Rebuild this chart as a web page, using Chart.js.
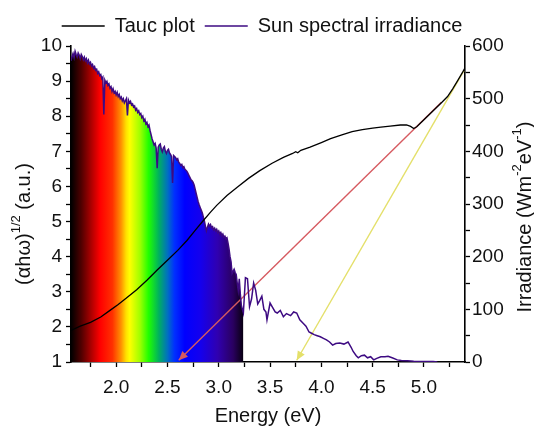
<!DOCTYPE html>
<html>
<head>
<meta charset="utf-8">
<script src="https://cdn.jsdelivr.net/npm/chart.js@4.4.0/dist/chart.umd.min.js"></script>
<style>
    html, body { margin: 0; padding: 0; background: #fff; }
</style>
</head>
<body>
<canvas id="tauc-chart" width="534" height="428"></canvas>
<script>
// Tauc plot, left axis
let taucE = [1.56, 1.65, 1.75, 1.85, 1.94, 2.02, 2.10, 2.20, 2.30, 2.40, 2.50, 2.60, 2.69, 2.77, 2.85, 2.92, 2.98,
    3.08, 3.18, 3.29, 3.40, 3.52, 3.63, 3.72, 3.75, 3.77, 3.80, 3.89, 4.00, 4.09, 4.20, 4.30, 4.40, 4.50, 4.58,
    4.67, 4.77, 4.83, 4.87, 4.90, 4.93, 5.00, 5.07, 5.13, 5.18, 5.23, 5.28, 5.33, 5.38, 5.40];
let taucY = [1.90, 2.02, 2.13, 2.28, 2.47, 2.64, 2.82, 3.06, 3.33, 3.62, 3.90, 4.18, 4.46, 4.75, 5.03, 5.27, 5.46,
    5.74, 5.98, 6.23, 6.45, 6.66, 6.83, 6.94, 6.99, 6.96, 7.03, 7.12, 7.25, 7.36, 7.47, 7.56, 7.62, 7.66, 7.69,
    7.72, 7.75, 7.75, 7.71, 7.65, 7.70, 7.90, 8.10, 8.27, 8.41, 8.56, 8.78, 9.02, 9.27, 9.38];

// Sun spectral irradiance, right axis
let sunE = [1.56, 1.57, 1.58, 1.59, 1.60, 1.61, 1.62, 1.63, 1.64, 1.65, 1.66, 1.67, 1.68, 1.69, 1.70, 1.71, 1.72,
    1.73, 1.74, 1.75, 1.76, 1.77, 1.78, 1.79, 1.80, 1.81, 1.82, 1.83, 1.84, 1.85, 1.86, 1.87, 1.88, 1.89, 1.90,
    1.91, 1.92, 1.93, 1.94, 1.95, 1.96, 1.97, 1.98, 1.99, 2.00, 2.01, 2.02, 2.03, 2.04, 2.05, 2.06, 2.07, 2.08,
    2.09, 2.10, 2.11, 2.12, 2.13, 2.14, 2.15, 2.16, 2.17, 2.18, 2.19, 2.20, 2.21, 2.22, 2.23, 2.24, 2.25, 2.26,
    2.27, 2.28, 2.29, 2.30, 2.31, 2.32, 2.33, 2.34, 2.35, 2.36, 2.37, 2.38, 2.39, 2.40, 2.41, 2.42, 2.43, 2.44,
    2.45, 2.46, 2.47, 2.48, 2.49, 2.50, 2.51, 2.52, 2.53, 2.54, 2.55, 2.56, 2.57, 2.58, 2.59, 2.60, 2.61, 2.62,
    2.63, 2.64, 2.65, 2.66, 2.67, 2.68, 2.69, 2.70, 2.71, 2.72, 2.73, 2.74, 2.75, 2.76, 2.77, 2.78, 2.79, 2.80,
    2.81, 2.82, 2.83, 2.84, 2.85, 2.86, 2.87, 2.88, 2.89, 2.90, 2.91, 2.92, 2.93, 2.94, 2.95, 2.96, 2.97, 2.98,
    2.99, 3.00, 3.01, 3.02, 3.03, 3.04, 3.05, 3.06, 3.07, 3.08, 3.09, 3.10, 3.11, 3.12, 3.13, 3.14, 3.15, 3.16,
    3.17, 3.18, 3.19, 3.20, 3.21, 3.22, 3.23, 3.24,
    3.26, 3.28, 3.30, 3.32, 3.34, 3.36, 3.38, 3.40, 3.42, 3.44, 3.46, 3.47, 3.50, 3.52, 3.55, 3.57,
    3.60, 3.63, 3.66, 3.70, 3.73, 3.76, 3.79, 3.82, 3.85, 3.88, 3.90, 3.93, 3.96, 3.99, 4.02, 4.05, 4.08, 4.11,
    4.14, 4.18, 4.22, 4.26, 4.29, 4.31, 4.34, 4.36, 4.39, 4.42, 4.45, 4.48, 4.51, 4.54, 4.58, 4.62, 4.65, 4.69,
    4.74, 4.78, 4.84, 4.90, 4.97, 5.03, 5.09, 5.13];
let sunI = [572, 580, 586, 578, 590, 584, 579, 587, 583, 576, 584, 580, 574, 579, 572, 576, 568,
    573, 566, 569, 562, 565, 558, 561, 554, 556, 548, 551, 544, 546, 538, 541, 470, 535, 530,
    533, 525, 528, 520, 523, 514, 519, 511, 514, 507, 512, 504, 508, 500, 503, 496, 500, 492,
    496, 500, 468, 497, 492, 495, 488, 490, 484, 486, 478, 481, 474, 477, 470, 472, 464, 467,
    458, 461, 452, 455, 447, 450, 440, 432, 424, 418, 412, 415, 406, 368, 408, 412, 414, 404,
    399, 406, 409, 400, 396, 402, 404, 397, 394, 390, 340, 392, 390, 388, 384, 386, 379, 377,
    373, 375, 369, 371, 366, 364, 362, 358, 354, 350, 346, 344, 341, 336, 328, 320, 312, 304,
    298, 293, 288, 283, 275, 268, 258, 249, 256, 262, 258, 261, 255, 257, 251, 254, 249, 252,
    246, 249, 243, 246, 240, 243, 237, 239, 234, 236, 226, 215, 200, 190, 168, 172, 176, 170,
    166, 150, 136, 158, 130, 108, 100, 93,
    160, 158, 105, 120, 150, 136, 110, 117, 125, 100, 95, 80, 112, 105, 95, 93,
    98, 86, 92, 88, 95, 93, 80, 74, 68, 57, 55, 52, 50, 48, 45, 42, 38, 32,
    35, 36, 34, 38, 28, 20, 12, 8, 12, 13, 8, 10, 4, 7, 10, 10, 11, 8,
    4, 3, 2.5, 1.5, 1, 1, 1, 0];
let spectrumEnd = 3.24;

// tangent arrows (start, tip)
let redArrowE = [5.17, 2.61];
let redArrowY = [8.40, 1.05];
let yellowArrowE = [5.39, 3.76];
let yellowArrowY = [9.30, 1.05];

// ticks
let xMajor = [2.0, 2.5, 3.0, 3.5, 4.0, 4.5, 5.0];
let xMinor = [1.75, 2.25, 2.75, 3.25, 3.75, 4.25, 4.75, 5.25];
let yLeftMajor = [1, 2, 3, 4, 5, 6, 7, 8, 9, 10];
let yLeftMinor = [1.5, 2.5, 3.5, 4.5, 5.5, 6.5, 7.5, 8.5, 9.5];
let yRightMajor = [0, 100, 200, 300, 400, 500, 600];
let yRightMinor = [50, 150, 250, 350, 450, 550];

function toPoints(xs, ys) {
    let pts = [];
    for (let i = 0; i < xs.length; i++) {
        pts.push({ x: xs[i], y: ys[i] });
    }
    return pts;
}

function setTicks(major, minor) {
    return function (scale) {
        scale.ticks = major.concat(minor).sort(function (a, b) { return a - b; }).map(function (v) {
            return { value: v };
        });
    };
}

let fillPoints = toPoints(sunE, sunI).filter(function (p) { return p.x <= spectrumEnd; });

let rainbowStops = [
    [0, '#000000'], [0.06, '#500000'], [0.13, '#c00000'], [0.17, '#ff0000'], [0.24, '#ff3000'],
    [0.29, '#ff9000'], [0.32, '#ffe000'], [0.34, '#ffff00'], [0.40, '#a0ff00'], [0.45, '#20ff00'],
    [0.51, '#00b060'], [0.56, '#0070c0'], [0.60, '#0030ff'], [0.66, '#0000ff'], [0.75, '#1400ee'],
    [0.85, '#3000b0'], [0.94, '#2a0060'], [1, '#080010']
];

function rainbowFill(context) {
    let chart = context.chart;
    if (!chart.chartArea) return '#0000ff';
    let x = chart.scales.x;
    let g = chart.ctx.createLinearGradient(x.getPixelForValue(x.min), 0, x.getPixelForValue(spectrumEnd), 0);
    rainbowStops.forEach(function (s) { g.addColorStop(s[0], s[1]); });
    return g;
}

let font = "'Liberation Sans', Arial, sans-serif";

// arrow heads at the tip of the tangent lines
let arrowHeads = {
    id: 'arrowHeads',
    afterDatasetsDraw: function (chart) {
        let ctx = chart.ctx;
        chart.data.datasets.forEach(function (ds, i) {
            if (!ds.arrow) return;
            let pts = chart.getDatasetMeta(i).data;
            let a = pts[0], b = pts[pts.length - 1];
            let ang = Math.atan2(b.y - a.y, b.x - a.x);
            ctx.save();
            ctx.fillStyle = ds.borderColor;
            ctx.translate(b.x, b.y);
            ctx.rotate(ang);
            ctx.beginPath();
            ctx.moveTo(0, 0);
            ctx.lineTo(-9, -4);
            ctx.lineTo(-9, 4);
            ctx.closePath();
            ctx.fill();
            ctx.restore();
        });
    }
};

function drawRich(ctx, parts, cx, cy, rot) {
    ctx.save();
    ctx.translate(cx, cy);
    ctx.rotate(rot);
    ctx.textBaseline = 'middle';
    ctx.textAlign = 'left';
    ctx.fillStyle = '#111';
    let total = 0;
    parts.forEach(function (p) {
        ctx.font = (p.sup ? '13px ' : '20px ') + font;
        p.w = ctx.measureText(p.text).width;
        total += p.w;
    });
    let x = -total / 2;
    parts.forEach(function (p) {
        ctx.font = (p.sup ? '13px ' : '20px ') + font;
        ctx.fillText(p.text, x, p.sup ? -8 : 0);
        x += p.w;
    });
    ctx.restore();
}

let axisTitles = {
    id: 'axisTitles',
    afterDraw: function (chart) {
        let ctx = chart.ctx;
        let area = chart.chartArea;
        drawRich(ctx, [{ text: 'Energy (eV)' }], (area.left + area.right) / 2, 416, 0);
        drawRich(ctx, [{ text: '(\u03b1h\u03c9)' }, { text: '1/2', sup: true }, { text: ' (a.u.)' }], 24, 224, -Math.PI / 2);
        drawRich(ctx, [{ text: 'Irradiance (Wm' }, { text: '-2', sup: true }, { text: 'eV' }, { text: '-1', sup: true }, { text: ')' }],
            525, 217, -Math.PI / 2);
    }
};

let axisGrid = {
    display: true,
    drawOnChartArea: false,
    drawTicks: true,
    tickLength: 5,
    tickWidth: 1.3,
    tickColor: '#000'
};
let axisBorder = { display: true, color: '#000', width: 1.6 };
let tickFont = { family: font, size: 19 };

new Chart(document.getElementById('tauc-chart'), {
    type: 'line',
    data: {
        datasets: [{
            label: 'Tauc plot',
            data: toPoints(taucE, taucY),
            yAxisID: 'y',
            borderColor: '#000000',
            borderWidth: 1.3,
            pointRadius: 0,
            fill: false
        }, {
            label: 'Sun spectral irradiance',
            data: toPoints(sunE, sunI),
            yAxisID: 'y1',
            borderColor: '#3d0a82',
            borderWidth: 1.5,
            pointRadius: 0,
            fill: false
        }, {
            label: 'red tangent',
            data: toPoints(redArrowE, redArrowY),
            yAxisID: 'y',
            borderColor: '#d65a60',
            borderWidth: 1.4,
            pointRadius: 0,
            fill: false,
            arrow: true
        }, {
            label: 'yellow tangent',
            data: toPoints(yellowArrowE, yellowArrowY),
            yAxisID: 'y',
            borderColor: '#e4e06a',
            borderWidth: 1.4,
            pointRadius: 0,
            fill: false,
            arrow: true
        }, {
            label: 'spectrum',
            data: fillPoints,
            yAxisID: 'y1',
            borderWidth: 0,
            borderColor: 'rgba(0,0,0,0)',
            backgroundColor: rainbowFill,
            pointRadius: 0,
            fill: 'origin'
        }]
    },
    options: {
        responsive: false,
        animation: false,
        layout: { padding: { top: 6, left: 20, right: 30, bottom: 0 } },
        plugins: {
            legend: {
                display: true,
                position: 'top',
                labels: {
                    filter: function (item) { return item.datasetIndex < 2; },
                    usePointStyle: true,
                    pointStyle: 'line',
                    pointStyleWidth: 43,
                    color: '#111',
                    padding: 10,
                    font: { family: font, size: 20 }
                }
            },
            tooltip: { enabled: false }
        },
        scales: {
            x: {
                type: 'linear',
                min: 1.56,
                max: 5.40,
                afterBuildTicks: setTicks(xMajor, xMinor),
                afterFit: function (scale) { scale.height = 66; },
                ticks: {
                    autoSkip: false,
                    maxRotation: 0,
                    color: '#111',
                    padding: 9,
                    font: tickFont,
                    callback: function (v) { return xMajor.indexOf(v) >= 0 ? v.toFixed(1) : ''; }
                },
                grid: axisGrid,
                border: axisBorder
            },
            y: {
                type: 'linear',
                position: 'left',
                min: 1,
                max: 10,
                afterBuildTicks: setTicks(yLeftMajor, yLeftMinor),
                afterFit: function (scale) { scale.width = 51; },
                ticks: {
                    autoSkip: false,
                    color: '#111',
                    padding: 4,
                    font: tickFont,
                    callback: function (v) { return yLeftMajor.indexOf(v) >= 0 ? String(v) : ''; }
                },
                grid: axisGrid,
                border: axisBorder
            },
            y1: {
                type: 'linear',
                position: 'right',
                min: 0,
                max: 600,
                afterBuildTicks: setTicks(yRightMajor, yRightMinor),
                afterFit: function (scale) { scale.width = 39; },
                ticks: {
                    autoSkip: false,
                    color: '#111',
                    padding: 2,
                    font: tickFont,
                    callback: function (v) { return yRightMajor.indexOf(v) >= 0 ? String(v) : ''; }
                },
                grid: axisGrid,
                border: axisBorder
            }
        }
    },
    plugins: [arrowHeads, axisTitles]
});
</script>
</body>
</html>
